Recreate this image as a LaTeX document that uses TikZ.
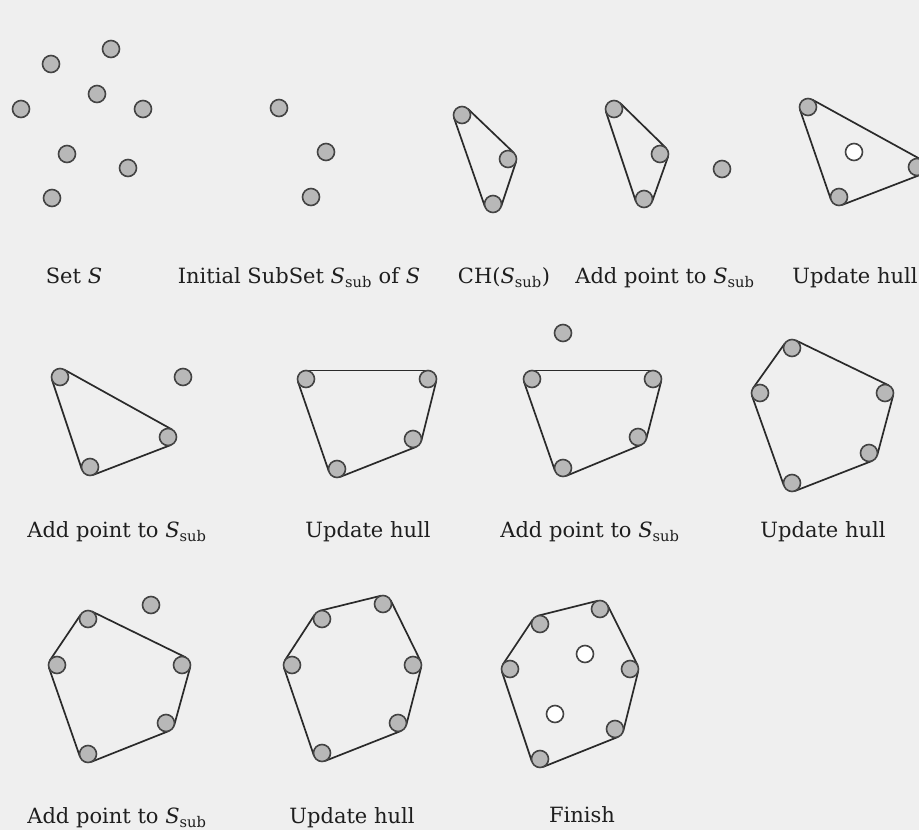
\documentclass[tikz,border=0pt]{standalone}
\usepackage{fontspec}
\setmainfont{DejaVu Serif}
\usetikzlibrary{calc}
\pgfdeclarelayer{bg}
\pgfsetlayers{bg,main}
\definecolor{paper}{HTML}{EFEFEF}
\definecolor{ptfill}{HTML}{B8B8B8}
\definecolor{ptline}{HTML}{444444}
\definecolor{hullc}{HTML}{2A2A2A}
\definecolor{txt}{HTML}{1E1E1E}
\newcommand\Ssub{{\itshape S}\textsubscript{sub}}
\newcommand\rr{8.5pt}
\tikzset{
  pt/.style={circle, draw=ptline, line width=1.6pt, fill=ptfill, minimum size=17pt, inner sep=0pt},
  hpt/.style={pt, fill=white},
  hull/.style={draw=hullc, line width=1.7pt},
  lbl/.style={anchor=base, text=txt, inner sep=0pt, font=\fontsize{21}{25}\selectfont}
}
\begin{document}
\begin{tikzpicture}[x=1pt,y=-1pt]
\useasboundingbox (0,0) rectangle (919,830);
\begin{pgfonlayer}{bg}
\fill[paper] (0,0) rectangle (919,830);
\end{pgfonlayer}
% Panel 1: Set S
\node[pt] (a1) at (111,49) {};
\node[pt] (a2) at (51,64) {};
\node[pt] (a3) at (97,94) {};
\node[pt] (a4) at (21,109) {};
\node[pt] (a5) at (143,109) {};
\node[pt] (a6) at (67,154) {};
\node[pt] (a7) at (128,168) {};
\node[pt] (a8) at (52,198) {};
\node[lbl] (l1) at (74,283) {Set {\itshape S}};
% Panel 2: initial subset
\node[pt] (b1) at (279,108) {};
\node[pt] (b2) at (326,152) {};
\node[pt] (b3) at (311,197) {};
\node[lbl] (l2) at (299,283) {Initial SubSet \Ssub{} of {\itshape S}};
% Panel 3: CH
\node[pt] (c1) at (462,115) {};
\node[pt] (c2) at (508,159) {};
\node[pt] (c3) at (493,204) {};
\node[lbl] (l3) at (504,283) {CH(\Ssub)};
% Panel 4
\node[pt] (d1) at (614,109) {};
\node[pt] (d2) at (660,154) {};
\node[pt] (d3) at (644,199) {};
\node[pt] (d4) at (722,169) {};
\node[lbl] (l4) at (665,283) {Add point to \Ssub};
% Panel 5
\node[pt] (e1) at (808,107) {};
\node[pt] (e2) at (917,167) {};
\node[pt] (e3) at (839,197) {};
\node[hpt] (e4) at (854,152) {};
\node[lbl] (l5) at (855,283) {Update hull};
% Panel 6
\node[pt] (f1) at (60,377) {};
\node[pt] (f2) at (168,437) {};
\node[pt] (f3) at (90,467) {};
\node[pt] (f4) at (183,377) {};
\node[lbl] (l6) at (117,537) {Add point to \Ssub};
% Panel 7
\node[pt] (g1) at (306,379) {};
\node[pt] (g2) at (428,379) {};
\node[pt] (g3) at (413,439) {};
\node[pt] (g4) at (337,469) {};
\node[lbl] (l7) at (368,537) {Update hull};
% Panel 8
\node[pt] (h1) at (532,379) {};
\node[pt] (h2) at (653,379) {};
\node[pt] (h3) at (638,437) {};
\node[pt] (h4) at (563,468) {};
\node[pt] (h5) at (563,333) {};
\node[lbl] (l8) at (590,537) {Add point to \Ssub};
% Panel 9
\node[pt] (i1) at (792,348) {};
\node[pt] (i2) at (885,393) {};
\node[pt] (i3) at (869,453) {};
\node[pt] (i4) at (792,483) {};
\node[pt] (i5) at (760,393) {};
\node[lbl] (l9) at (823,537) {Update hull};
% Panel 10
\node[pt] (j1) at (88,619) {};
\node[pt] (j2) at (182,665) {};
\node[pt] (j3) at (166,723) {};
\node[pt] (j4) at (88,754) {};
\node[pt] (j5) at (57,665) {};
\node[pt] (j6) at (151,605) {};
\node[lbl] (l10) at (117,823) {Add point to \Ssub};
% Panel 11
\node[pt] (k1) at (322,619) {};
\node[pt] (k2) at (383,604) {};
\node[pt] (k3) at (413,665) {};
\node[pt] (k4) at (398,723) {};
\node[pt] (k5) at (322,753) {};
\node[pt] (k6) at (292,665) {};
\node[lbl] (l11) at (352,823) {Update hull};
% Panel 12
\node[pt] (m1) at (540,624) {};
\node[pt] (m2) at (600,609) {};
\node[pt] (m3) at (630,669) {};
\node[pt] (m4) at (615,729) {};
\node[pt] (m5) at (540,759) {};
\node[pt] (m6) at (510,669) {};
\node[hpt] (m7) at (585,654) {};
\node[hpt] (m8) at (555,714) {};
\node[lbl] (l12) at (582,822) {Finish};
% hull edges (vertices listed clockwise)
\begin{pgfonlayer}{bg}
\foreach \a/\b in {c1/c2,c2/c3,c3/c1, d1/d2,d2/d3,d3/d1, e1/e2,e2/e3,e3/e1,
  f1/f2,f2/f3,f3/f1, g1/g2,g2/g3,g3/g4,g4/g1, h1/h2,h2/h3,h3/h4,h4/h1,
  i1/i2,i2/i3,i3/i4,i4/i5,i5/i1, j1/j2,j2/j3,j3/j4,j4/j5,j5/j1,
  k1/k2,k2/k3,k3/k4,k4/k5,k5/k6,k6/k1, m1/m2,m2/m3,m3/m4,m4/m5,m5/m6,m6/m1}
  \draw[hull] ($(\a)!\rr!90:(\b)$) -- ($(\b)!\rr!-90:(\a)$);
\end{pgfonlayer}
\end{tikzpicture}
\end{document}
